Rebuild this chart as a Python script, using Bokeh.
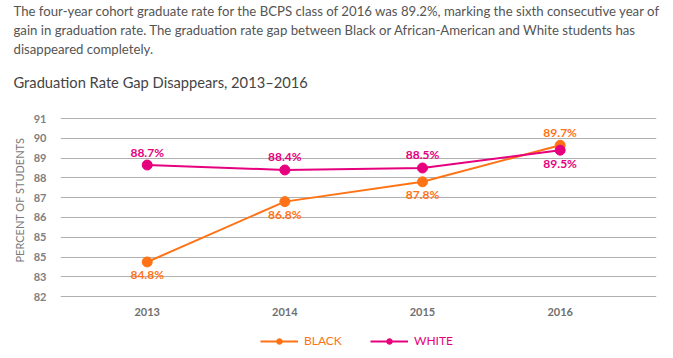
from bokeh.plotting import figure
from bokeh.models import (ColumnDataSource, FixedTicker, Title, Legend, LegendItem,
                          LabelSet, Range1d)
from bokeh.core.properties import value
from bokeh.embed import file_html
from bokeh.resources import INLINE

# ---- data ----
years = [2013, 2014, 2015, 2016]
black_values = [83.75, 86.8, 87.8, 89.65]
white_values = [88.65, 88.4, 88.5, 89.4]
black_labels = ["84.8%", "86.8%", "87.8%", "89.7%"]
white_labels = ["88.7%", "88.4%", "88.5%", "89.5%"]
y_ticks = [82, 83, 84, 85, 86, 87, 88, 89, 90, 91]
y_tick_labels = ["82", "83", "85", "85", "86", "87", "88", "89", "90", "91"]
x_tick_labels = ["2013", "2014", "2015", "2016"]
series_names = ["BLACK", "WHITE"]
y_axis_title = "PERCENT OF STUDENTS"
paragraph = [
    "The four-year cohort graduate rate for the BCPS class of 2016 was 89.2%, marking the sixth consecutive year of",
    "gain in graduation rate. The graduation rate gap between Black or African-American and White students has",
    "disappeared completely.",
]
chart_title = "Graduation Rate Gap Disappears, 2013\u20132016"

ORANGE = "#FF7316"
PINK = "#E6007E"
FONT = "Lato"

p = figure(width=673, height=358, output_backend="svg", toolbar_location=None,
           x_range=Range1d(2012.37, 2016.70), y_range=Range1d(78.87, 91.76),
           min_border_left=60, min_border_right=17, min_border_bottom=0,
           min_border_top=10)
p.outline_line_color = None
p.background_fill_color = None
p.border_fill_color = None

# titles (first added = closest to frame)
p.add_layout(Title(text=chart_title, text_font=FONT, text_font_size="14.7px",
                   text_font_style="normal", text_color="#444444", align="left",
                   offset=-47, standoff=26), "above")
for line in reversed(paragraph):
    p.add_layout(Title(text=line, text_font=FONT, text_font_size="13.2px",
                       text_font_style="normal", text_color="#555555", align="left",
                       offset=-47, standoff=1), "above")

src_b = ColumnDataSource(dict(x=years, y=black_values, t=black_labels,
                              off=[-13, -13, -13, 13]))
src_w = ColumnDataSource(dict(x=years, y=white_values, t=white_labels,
                              off=[13, 13, 13, -13]))

lb = p.line("x", "y", source=src_b, line_color=ORANGE, line_width=2)
cb = p.scatter("x", "y", source=src_b, size=10, fill_color=ORANGE, line_color=ORANGE)
lw = p.line("x", "y", source=src_w, line_color=PINK, line_width=2)
cw = p.scatter("x", "y", source=src_w, size=10, fill_color=PINK, line_color=PINK)

for src, col in ((src_b, ORANGE), (src_w, PINK)):
    p.add_layout(LabelSet(x="x", y="y", text="t", source=src, y_offset="off",
                          text_align="center", text_baseline="middle",
                          text_font=value(FONT), text_font_size=value("12px"),
                          text_font_style="bold", text_color=col))

# axes
p.xaxis.fixed_location = 81.9
p.xaxis.ticker = FixedTicker(ticks=years)
p.xaxis.major_label_overrides = {y: s for y, s in zip(years, x_tick_labels)}
p.xaxis.axis_line_color = None
p.xaxis.major_tick_line_color = None
p.xaxis.minor_tick_line_color = None
p.xaxis.major_tick_out = 0
p.xaxis.major_label_text_font = FONT
p.xaxis.major_label_text_font_size = "11px"
p.xaxis.major_label_text_font_style = "bold"
p.xaxis.major_label_text_color = "#707070"
p.xaxis.major_label_standoff = 9
p.xgrid.grid_line_color = None

p.yaxis.ticker = FixedTicker(ticks=y_ticks)
p.yaxis.major_label_overrides = {t: s for t, s in zip(y_ticks, y_tick_labels)}
p.yaxis.axis_line_color = None
p.yaxis.major_tick_line_color = None
p.yaxis.minor_tick_line_color = None
p.yaxis.major_label_text_font = FONT
p.yaxis.major_label_text_font_size = "11px"
p.yaxis.major_label_text_font_style = "bold"
p.yaxis.major_label_text_color = "#808080"
p.yaxis.major_label_text_baseline = "alphabetic"
p.yaxis.major_label_standoff = 8
p.ygrid.grid_line_color = "#b0b0b0"
p.ygrid.grid_line_width = 1

# y-axis title as a left-side title so it can sit beside the grid area
p.add_layout(Title(text=y_axis_title, text_font=FONT, text_font_size="11px",
                   text_font_style="normal", text_color="#7a7a7a", align="left",
                   offset=96, standoff=9), "left")

# legends (one per series so that label colours match)
for name, rs, col, loc in ((series_names[0], [lb, cb], ORANGE, (200, 10)),
                           (series_names[1], [lw, cw], PINK, (310, 10))):
    leg = Legend(items=[LegendItem(label=name, renderers=rs)], location=loc,
                 orientation="horizontal", glyph_width=38, glyph_height=14,
                 label_height=14, label_standoff=6, padding=0, margin=0,
                 border_line_color=None, background_fill_alpha=0,
                 label_text_font=FONT, label_text_font_size="12px",
                 label_text_color=col)
    p.add_layout(leg, "center")

open("out.html", "w").write(file_html(p, INLINE))
